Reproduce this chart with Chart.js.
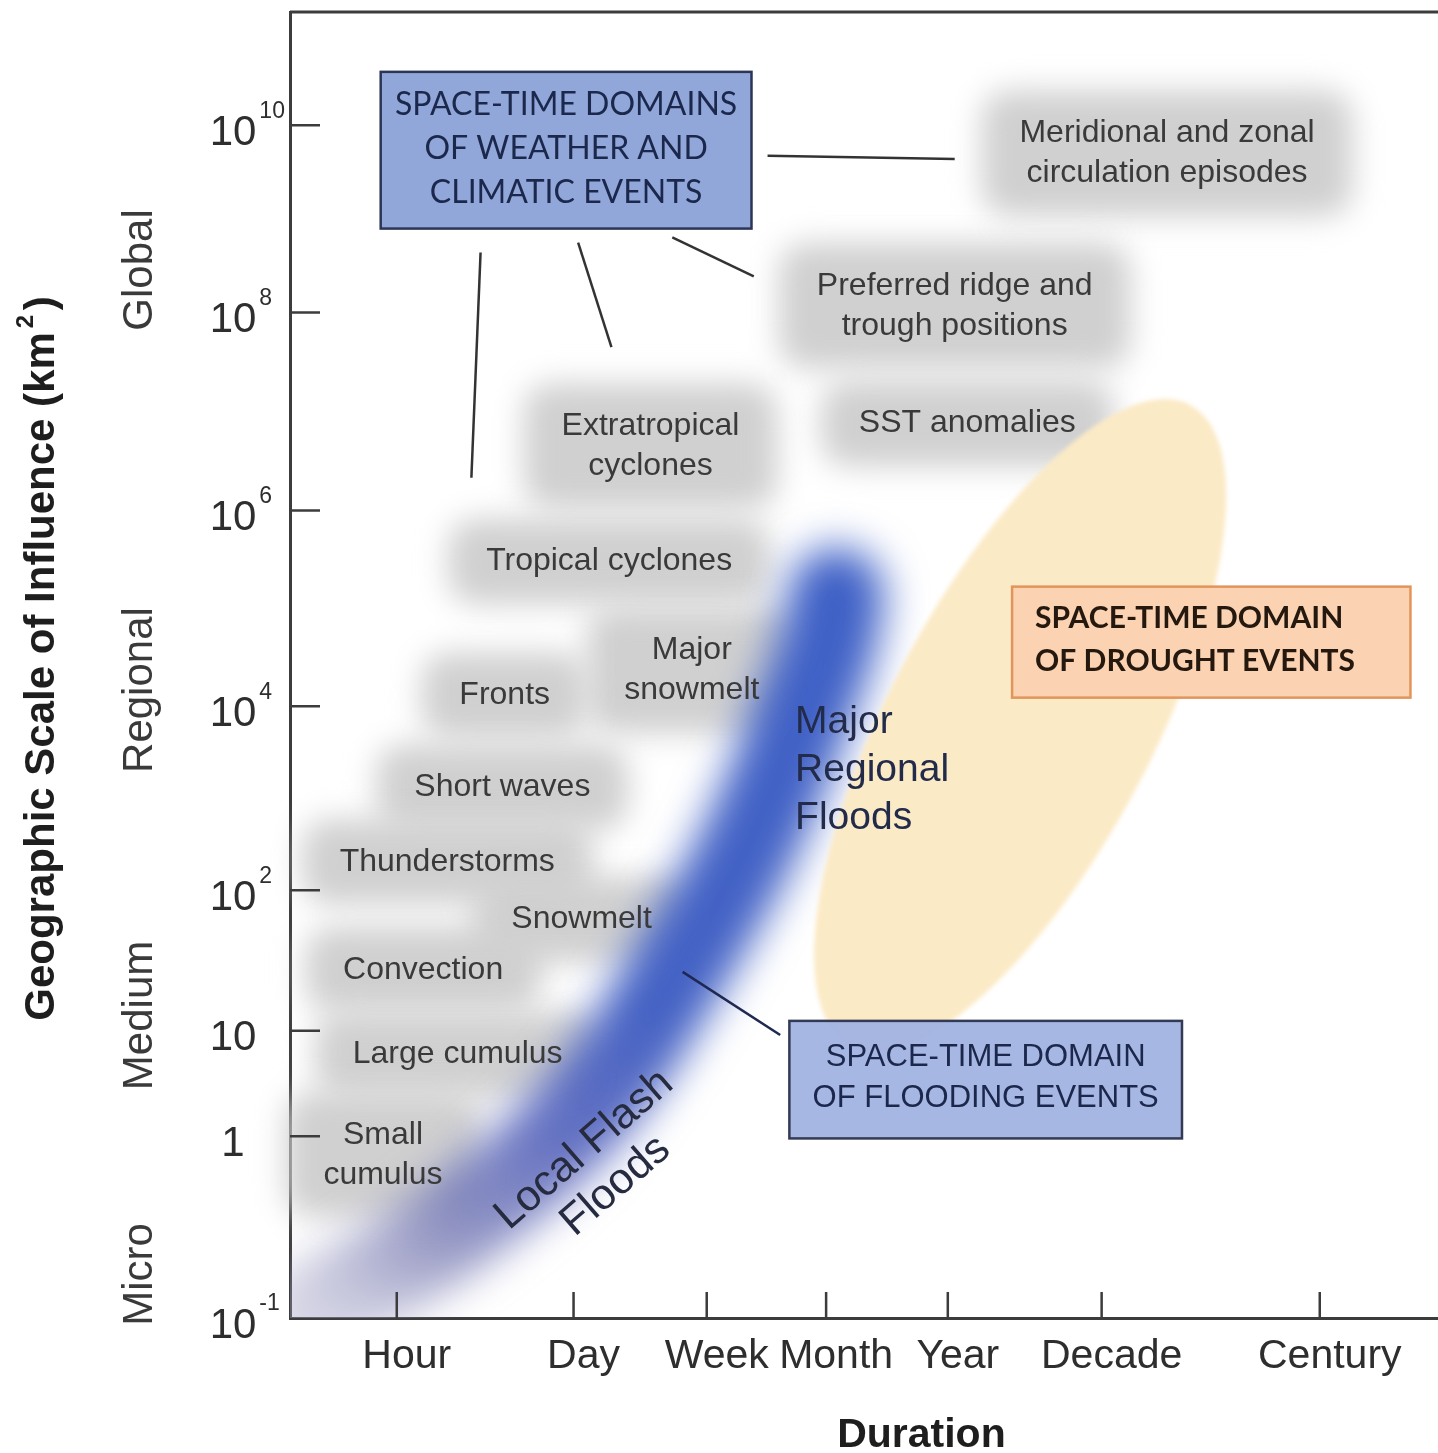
<!DOCTYPE html>
<html>
<head>
<meta charset="utf-8">
<script src="https://cdn.jsdelivr.net/npm/chart.js@4.4.1/dist/chart.umd.min.js"></script>
<style>
  html, body { margin: 0; padding: 0; background: #fff; }
  canvas { display: block; }
</style>
</head>
<body>
<canvas id="chart" width="1438" height="1453"></canvas>
<script>
// duration axis (schematic units)
const durationTicks = [0.93, 2.47, 3.63, 4.67, 5.73, 7.07, 8.97];
const durationNames = ['Hour', 'Day', 'Week', 'Month', 'Year', 'Decade', 'Century'];

// area axis (schematic units), labels printed as base + exponent
const areaTicks = [0, 1.67, 2.64, 3.93, 5.62, 7.42, 9.24, 10.96];
const areaBase = ['10', '1', '10', '10', '10', '10', '10', '10'];
const areaExp = ['-1', '', '', '2', '4', '6', '8', '10'];

// size classes along the area axis
const classPos = [9.63, 5.77, 2.78, 0.40];
const classNames = ['Global', 'Regional', 'Medium', 'Micro'];

// centre line of the flood band, from flash floods up to regional floods
const floodX = [0.22, 0.96, 1.66, 2.31, 2.83, 3.27, 3.66, 4.01, 4.31, 4.57, 4.69, 4.76];
const floodY = [0.07, 0.51, 1.04, 1.64, 2.28, 3.01, 3.70, 4.39, 5.13, 5.86, 6.23, 6.64];

// drought domain: both ends of the long axis
const droughtX = [4.88, 7.84];
const droughtY = [2.50, 8.39];

// weather and climate phenomena
const eventNames = [
  'Meridional and zonal\ncirculation episodes',
  'Preferred ridge and\ntrough positions',
  'Extratropical\ncyclones',
  'SST anomalies',
  'Tropical cyclones',
  'Major\nsnowmelt',
  'Fronts',
  'Short waves',
  'Thunderstorms',
  'Snowmelt',
  'Convection',
  'Large cumulus',
  'Small\ncumulus'
];
const eventX = [7.64, 5.79, 3.14, 5.90, 2.78, 3.50, 1.87, 1.85, 1.37, 2.54, 1.16, 1.46, 0.81];
const eventY = [10.70, 9.30, 8.01, 8.22, 6.95, 5.95, 5.72, 4.88, 4.19, 3.66, 3.20, 2.42, 1.50];

// leader lines
const linkFrom = [[4.16, 10.68], [3.33, 9.93], [2.51, 9.88], [1.66, 9.79], [3.42, 3.18]];
const linkTo = [[5.79, 10.65], [4.04, 9.57], [2.80, 8.92], [1.58, 7.72], [4.27, 2.60]];

// domain boxes
const boxTitles = [
  'SPACE-TIME DOMAINS\nOF WEATHER AND\nCLIMATIC EVENTS',
  'SPACE-TIME DOMAIN\nOF FLOODING EVENTS',
  'SPACE-TIME DOMAIN\nOF DROUGHT EVENTS'
];
const boxLeft = [0.79, 4.35, 6.29];
const boxRight = [4.02, 7.77, 9.76];
const boxTop = [11.45, 2.73, 6.72];
const boxBottom = [10.01, 1.65, 5.70];

// flood labels
const floodLabels = ['Major\nRegional\nFloods', 'Local Flash\nFloods'];
const floodLabelX = [4.40, 2.70];
const floodLabelY = [5.03, 1.38];

const SANS = '"Liberation Sans", Arial, Helvetica, sans-serif';
const AXIS_COLOR = '#3c3c3c';
const TEXT_COLOR = '#2e2e2e';
const EVENT_FONT = '32px ' + SANS;
const EVENT_LINE = 40;

const boxStyles = [
  { fill: 'rgba(141,163,216,0.97)', stroke: '#2c3556', color: '#1b284c', font: '32px Lato, ' + SANS, line: 44, align: 'center' },
  { fill: 'rgba(160,178,226,0.93)', stroke: '#323a55', color: '#1b284c', font: '31px ' + SANS, line: 41, align: 'center' },
  { fill: '#fbd3b2', stroke: '#e2955a', color: '#25180f', font: 'bold 30px Lato, ' + SANS, line: 43, align: 'left' }
];

function drawLines(ctx, text, x, y, lineH) {
  const lines = text.split('\n');
  const y0 = y - (lines.length - 1) * lineH / 2;
  lines.forEach((s, i) => ctx.fillText(s, x, y0 + i * lineH));
}

function bandGradient(chart) {
  const { ctx, chartArea, scales } = chart;
  if (!chartArea) return '#4262c4';
  const n = floodX.length - 1;
  const g = ctx.createLinearGradient(
    scales.x.getPixelForValue(floodX[0]), scales.y.getPixelForValue(floodY[0]),
    scales.x.getPixelForValue(floodX[n]), scales.y.getPixelForValue(floodY[n]));
  g.addColorStop(0, 'rgba(160,160,195,0.45)');
  g.addColorStop(0.14, 'rgba(128,130,182,0.8)');
  g.addColorStop(0.32, 'rgba(90,104,190,0.94)');
  g.addColorStop(0.5, 'rgba(68,98,196,1)');
  g.addColorStop(1, 'rgba(62,96,198,1)');
  return g;
}

const diagram = {
  id: 'diagram',
  beforeDatasetsDraw(chart) {
    // soft grey patches behind the phenomenon names
    const { ctx, scales } = chart;
    ctx.save();
    ctx.font = EVENT_FONT;
    ctx.filter = 'blur(15px)';
    ctx.fillStyle = '#d0d0d0';
    eventNames.forEach((name, i) => {
      const lines = name.split('\n');
      const w = Math.max(...lines.map(s => ctx.measureText(s).width)) + 76;
      const h = lines.length * EVENT_LINE + 46;
      const cx = scales.x.getPixelForValue(eventX[i]);
      const cy = scales.y.getPixelForValue(eventY[i]);
      ctx.beginPath();
      ctx.roundRect(cx - w / 2, cy - h / 2, w, h, 28);
      ctx.fill();
    });
    ctx.restore();
  },
  beforeDatasetDraw(chart) { chart.ctx.filter = 'blur(20px)'; },
  afterDatasetDraw(chart) { chart.ctx.filter = 'none'; },
  afterDatasetsDraw(chart) {
    const { ctx, scales } = chart;
    const X = v => scales.x.getPixelForValue(v);
    const Y = v => scales.y.getPixelForValue(v);
    ctx.save();

    // drought ellipse
    const x1 = X(droughtX[0]), y1 = Y(droughtY[0]), x2 = X(droughtX[1]), y2 = Y(droughtY[1]);
    ctx.filter = 'blur(2px)';
    ctx.fillStyle = '#fbeac6';
    ctx.beginPath();
    ctx.ellipse((x1 + x2) / 2, (y1 + y2) / 2, Math.hypot(x2 - x1, y2 - y1) / 2, 132,
      Math.atan2(y2 - y1, x2 - x1), 0, Math.PI * 2);
    ctx.fill();
    ctx.filter = 'none';

    // phenomenon names
    ctx.font = EVENT_FONT;
    ctx.fillStyle = '#3a3a3a';
    ctx.textAlign = 'center';
    ctx.textBaseline = 'middle';
    eventNames.forEach((name, i) => drawLines(ctx, name, X(eventX[i]), Y(eventY[i]), EVENT_LINE));

    // flood labels
    ctx.fillStyle = '#222b4a';
    ctx.font = '39px ' + SANS;
    ctx.textAlign = 'left';
    drawLines(ctx, floodLabels[0], X(floodLabelX[0]), Y(floodLabelY[0]), 48);
    ctx.save();
    ctx.translate(X(floodLabelX[1]), Y(floodLabelY[1]));
    ctx.rotate(-41 * Math.PI / 180);
    ctx.fillStyle = '#262b40';
    ctx.font = '43px ' + SANS;
    ctx.textAlign = 'center';
    drawLines(ctx, floodLabels[1], 0, 0, 48);
    ctx.restore();

    // leader lines
    ctx.lineWidth = 2.5;
    linkFrom.forEach((p, i) => {
      ctx.strokeStyle = i === 4 ? '#1f2850' : '#333';
      ctx.beginPath();
      ctx.moveTo(X(p[0]), Y(p[1]));
      ctx.lineTo(X(linkTo[i][0]), Y(linkTo[i][1]));
      ctx.stroke();
    });

    // domain boxes
    boxTitles.forEach((title, i) => {
      const st = boxStyles[i];
      const l = X(boxLeft[i]), r = X(boxRight[i]), t = Y(boxTop[i]), b = Y(boxBottom[i]);
      ctx.fillStyle = st.fill;
      ctx.fillRect(l, t, r - l, b - t);
      ctx.strokeStyle = st.stroke;
      ctx.lineWidth = 2.5;
      ctx.strokeRect(l, t, r - l, b - t);
      ctx.fillStyle = st.color;
      ctx.font = st.font;
      ctx.textAlign = st.align;
      const tx = st.align === 'center' ? (l + r) / 2 : l + 23;
      drawLines(ctx, title, tx, (t + b) / 2 - 2, st.line);
    });
    ctx.restore();
  },
  afterDraw(chart) {
    const { ctx, chartArea: area, scales } = chart;
    const X = v => scales.x.getPixelForValue(v);
    const Y = v => scales.y.getPixelForValue(v);
    ctx.save();

    // inward tick marks and top frame line
    ctx.strokeStyle = AXIS_COLOR;
    ctx.lineWidth = 2.5;
    ctx.beginPath();
    areaTicks.forEach(v => {
      if (v > scales.y.min) { ctx.moveTo(area.left, Y(v)); ctx.lineTo(area.left + 30, Y(v)); }
    });
    durationTicks.forEach(v => { ctx.moveTo(X(v), area.bottom); ctx.lineTo(X(v), area.bottom - 26); });
    ctx.stroke();
    ctx.lineWidth = 3;
    ctx.beginPath();
    ctx.moveTo(area.left, area.top);
    ctx.lineTo(area.right, area.top);
    ctx.stroke();

    // area tick labels with exponents
    ctx.fillStyle = TEXT_COLOR;
    ctx.textBaseline = 'middle';
    areaTicks.forEach((v, i) => {
      const y = Y(v) + 8;
      const cx = area.left - 57;
      ctx.font = '42px ' + SANS;
      ctx.textAlign = 'center';
      ctx.fillText(areaBase[i], cx, y);
      if (areaExp[i]) {
        const w = ctx.measureText(areaBase[i]).width;
        ctx.font = '23px ' + SANS;
        ctx.textAlign = 'left';
        ctx.fillText(areaExp[i], cx + w / 2 + 3, y - 22);
      }
    });

    // size classes
    ctx.fillStyle = '#3a3a3a';
    ctx.font = '42px ' + SANS;
    ctx.textAlign = 'center';
    classPos.forEach((v, i) => {
      ctx.save();
      ctx.translate(area.left - 150, Y(v));
      ctx.rotate(-Math.PI / 2);
      ctx.fillText(classNames[i], 0, 0);
      ctx.restore();
    });

    // axis titles
    ctx.fillStyle = '#1e1e1e';
    ctx.save();
    ctx.translate(area.left - 248, Y(6.06));
    ctx.rotate(-Math.PI / 2);
    const head = 'Geographic Scale of Influence (km';
    ctx.font = 'bold 42px ' + SANS;
    const wHead = ctx.measureText(head).width;
    const wTail = ctx.measureText(')').width;
    const total = wHead + 22 + wTail;
    ctx.textAlign = 'left';
    ctx.fillText(head, -total / 2, 0);
    ctx.font = 'bold 24px ' + SANS;
    ctx.fillText('2', -total / 2 + wHead + 4, -16);
    ctx.font = 'bold 42px ' + SANS;
    ctx.fillText(')', -total / 2 + wHead + 22, 0);
    ctx.restore();

    ctx.font = 'bold 41px ' + SANS;
    ctx.textAlign = 'center';
    ctx.fillText('Duration', X(5.5), area.bottom + 118);
    ctx.restore();
  }
};

new Chart(document.getElementById('chart'), {
  type: 'line',
  data: {
    datasets: [{
      label: 'Flood domain',
      data: floodX.map((x, i) => ({ x, y: floodY[i] })),
      borderColor: ctx => bandGradient(ctx.chart),
      borderWidth: 96,
      borderCapStyle: 'round',
      borderJoinStyle: 'round',
      tension: 0.4,
      pointRadius: 0,
      fill: false
    }]
  },
  options: {
    responsive: false,
    animation: false,
    devicePixelRatio: 1,
    layout: { padding: { left: 290, right: 0, top: 12, bottom: 60 } },
    plugins: { legend: { display: false }, tooltip: { enabled: false } },
    scales: {
      x: {
        type: 'linear', min: 0, max: 10, z: 1,
        grid: { display: false, drawTicks: false },
        border: { display: true, color: AXIS_COLOR, width: 3 },
        afterBuildTicks: s => { s.ticks = durationTicks.map(value => ({ value })); },
        afterFit: s => { s.height = 75; },
        ticks: {
          autoSkip: false, maxRotation: 0, minRotation: 0,
          padding: 14, labelOffset: 10,
          color: TEXT_COLOR,
          font: { family: SANS, size: 41 },
          callback: (v, i) => durationNames[i]
        }
      },
      y: {
        type: 'linear', min: 0, max: 12, z: 1,
        grid: { display: false },
        border: { display: true, color: AXIS_COLOR, width: 3 },
        ticks: { display: false },
        afterBuildTicks: s => { s.ticks = areaTicks.map(value => ({ value })); },
        afterFit: s => { s.width = 0; }
      }
    }
  },
  plugins: [diagram]
});
</script>
</body>
</html>
